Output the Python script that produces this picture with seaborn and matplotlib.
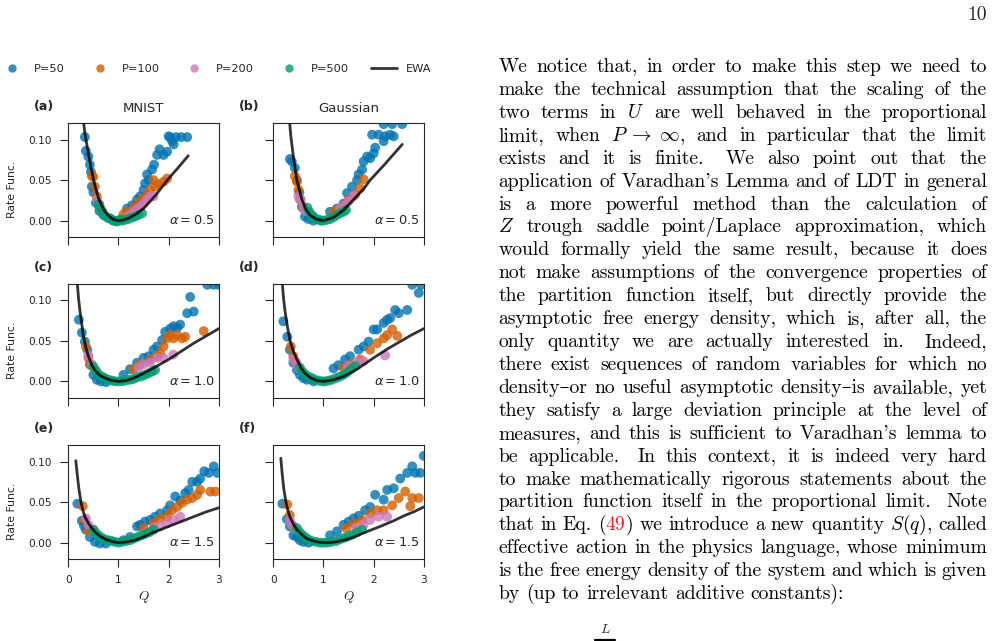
import matplotlib
matplotlib.use("Agg")
import numpy as np
import pandas as pd
import matplotlib.pyplot as plt
import seaborn as sns
from matplotlib.lines import Line2D

sns.set_style("ticks")
plt.rcParams["font.family"] = ["DejaVu Sans"]
plt.rcParams.update({
    "axes.linewidth": 0.8,
    "xtick.major.size": 5.8,
    "ytick.major.size": 5.8,
    "xtick.major.width": 0.8,
    "ytick.major.width": 0.8,
    "xtick.major.pad": 6.0,
    "ytick.major.pad": 6.0,
    "xtick.labelsize": 7.6,
    "ytick.labelsize": 7.6,
})

# ---- data ----
sizes = [50, 100, 200, 500]
palette = {50: "#0173B2", 100: "#D55E00", 200: "#CC78BC", 500: "#029E73"}

# (a) MNIST, alpha = 0.5
a_q50 = [0.33, 0.35, 0.40, 0.43, 0.45, 0.47, 0.50, 0.55, 0.62, 0.70, 0.83, 0.90, 0.97, 1.05, 1.17, 1.27,
         1.37, 1.43, 1.50, 1.53, 1.60, 1.57, 1.67, 1.71, 1.77, 1.82, 1.90, 1.97, 2.00, 2.03, 2.07, 2.10,
         2.15, 2.25, 2.37]
a_r50 = [0.103, 0.086, 0.079, 0.069, 0.060, 0.042, 0.035, 0.022, 0.012, 0.007, 0.003, 0.000, -0.001,
         0.002, 0.015, 0.019, 0.026, 0.030, 0.038, 0.046, 0.050, 0.057, 0.063, 0.069, 0.081, 0.088,
         0.081, 0.085, 0.104, 0.103, 0.098, 0.094, 0.103, 0.103, 0.103]
a_q100 = [0.47, 0.50, 0.53, 0.57, 0.62, 1.10, 1.17, 1.30, 1.43, 1.50, 1.57, 1.63, 1.70, 1.73, 1.80, 1.90, 1.97]
a_r100 = [0.055, 0.054, 0.042, 0.030, 0.020, 0.008, 0.011, 0.017, 0.024, 0.028, 0.032, 0.038, 0.050,
          0.042, 0.045, 0.048, 0.052]
a_q200 = [0.57, 0.60, 0.63, 0.67, 1.20, 1.30, 1.37, 1.43, 1.50, 1.57, 1.63, 1.70]
a_r200 = [0.026, 0.019, 0.016, 0.012, 0.006, 0.011, 0.014, 0.017, 0.021, 0.026, 0.030, 0.030]
a_q500 = [0.60, 0.63, 0.67, 0.70, 0.75, 0.80, 0.87, 0.93, 1.00, 1.07, 1.13, 1.20, 1.27, 1.33, 1.40, 1.47]
a_r500 = [0.020, 0.016, 0.012, 0.008, 0.005, 0.003, 0.001, 0.000, 0.000, 0.000, 0.001, 0.002, 0.004,
          0.005, 0.007, 0.009]
a_qewa = [0.28, 0.33, 0.38, 0.45, 0.52, 0.60, 0.70, 0.80, 0.90, 1.00, 1.10, 1.20, 1.35, 1.50, 1.75, 2.00, 2.20, 2.39]
a_rewa = [0.135, 0.108, 0.090, 0.066, 0.046, 0.028, 0.014, 0.006, 0.0015, 0.0, 0.0008, 0.003, 0.008,
          0.015, 0.032, 0.052, 0.066, 0.080]

# (b) Gaussian, alpha = 0.5
b_q50 = [0.33, 0.37, 0.43, 0.47, 0.52, 0.57, 0.63, 0.70, 0.80, 0.95, 1.13, 1.27, 1.40, 1.47, 1.57, 1.67,
         1.70, 1.77, 1.80, 1.87, 1.93, 2.00, 2.03, 1.97, 2.10, 2.20, 2.23, 2.33, 2.40, 2.20, 2.37, 2.57]
b_r50 = [0.076, 0.073, 0.065, 0.050, 0.035, 0.017, 0.005, 0.002, 0.000, 0.000, 0.011, 0.015, 0.021,
         0.034, 0.042, 0.050, 0.057, 0.063, 0.073, 0.079, 0.077, 0.083, 0.090, 0.106, 0.106, 0.098,
         0.104, 0.106, 0.104, 0.119, 0.119, 0.119]
b_q100 = [0.43, 0.47, 0.50, 0.53, 0.60, 1.20, 1.27, 1.40, 1.50, 1.63, 1.73, 1.80]
b_r100 = [0.055, 0.048, 0.038, 0.026, 0.015, 0.010, 0.013, 0.019, 0.026, 0.032, 0.040, 0.051]
b_q200 = [0.50, 0.55, 0.60, 0.65, 1.33, 1.43, 1.50, 1.60]
b_r200 = [0.030, 0.026, 0.017, 0.012, 0.015, 0.019, 0.024, 0.030]
b_q500 = [0.68, 0.72, 0.76, 0.80, 0.86, 0.92, 1.00, 1.07, 1.13, 1.20, 1.27, 1.33, 1.40, 1.45]
b_r500 = [0.016, 0.011, 0.007, 0.005, 0.002, 0.001, 0.000, 0.001, 0.002, 0.004, 0.007, 0.009, 0.011, 0.013]
b_qewa = [0.32, 0.35, 0.40, 0.47, 0.57, 0.65, 0.73, 0.85, 1.00, 1.20, 1.40, 1.60, 1.80, 1.93, 2.20, 2.40, 2.57]
b_rewa = [0.125, 0.104, 0.079, 0.050, 0.026, 0.014, 0.007, 0.002, 0.0, 0.004, 0.013, 0.026, 0.039,
          0.050, 0.068, 0.082, 0.094]

# (c) MNIST, alpha = 1.0
c_q50 = [0.21, 0.27, 0.33, 0.38, 0.43, 0.50, 0.57, 0.65, 0.75, 1.10, 1.23, 1.37, 1.50, 1.60, 1.70, 1.77,
         1.87, 1.93, 2.03, 2.10, 2.17, 2.23, 2.37, 2.43, 2.50, 2.77, 2.90, 3.00]
c_r50 = [0.076, 0.060, 0.049, 0.039, 0.021, 0.008, 0.002, 0.000, -0.001, 0.008, 0.015, 0.023, 0.029,
         0.031, 0.039, 0.043, 0.051, 0.061, 0.065, 0.068, 0.066, 0.070, 0.084, 0.104, 0.086, 0.119,
         0.119, 0.119]
c_q100 = [0.35, 0.40, 0.45, 1.30, 1.43, 1.63, 1.77, 1.83, 1.90, 1.97, 2.03, 2.10, 2.17, 2.27, 2.33, 2.70]
c_r100 = [0.043, 0.029, 0.020, 0.015, 0.021, 0.027, 0.031, 0.035, 0.043, 0.053, 0.057, 0.053, 0.057,
          0.053, 0.055, 0.062]
c_q200 = [0.40, 0.47, 0.53, 1.40, 1.50, 1.63, 1.77, 1.90, 2.09]
c_r200 = [0.032, 0.021, 0.015, 0.017, 0.021, 0.023, 0.029, 0.029, 0.033]
c_q500 = [0.50, 0.55, 0.60, 0.67, 0.73, 0.80, 0.87, 0.93, 1.00, 1.07, 1.15, 1.23, 1.30, 1.37, 1.45,
          1.53, 1.60, 1.67, 1.73]
c_r500 = [0.018, 0.013, 0.009, 0.006, 0.004, 0.002, 0.001, 0.000, 0.000, 0.000, 0.001, 0.002, 0.003,
          0.005, 0.006, 0.008, 0.010, 0.012, 0.014]
c_qewa = [0.17, 0.20, 0.23, 0.27, 0.30, 0.35, 0.40, 0.47, 0.53, 0.62, 0.70, 0.85, 1.00, 1.15, 1.30,
          1.47, 1.63, 1.80, 2.00, 2.25, 2.50, 2.75, 3.00]
c_rewa = [0.130, 0.105, 0.088, 0.070, 0.056, 0.042, 0.031, 0.020, 0.014, 0.008, 0.005, 0.0015, 0.0,
          0.001, 0.004, 0.009, 0.014, 0.020, 0.027, 0.037, 0.047, 0.056, 0.065]

# (d) Gaussian, alpha = 1.0
d_q50 = [0.20, 0.28, 0.33, 0.40, 0.47, 0.53, 0.60, 0.67, 0.80, 1.20, 1.30, 1.43, 1.53, 1.70, 1.80, 1.90,
         2.00, 2.07, 2.20, 2.27, 2.33, 2.43, 2.50, 2.67, 2.77, 2.90, 2.95]
d_r50 = [0.074, 0.055, 0.039, 0.023, 0.014, 0.008, 0.004, 0.002, 0.000, 0.016, 0.020, 0.027, 0.031,
         0.039, 0.043, 0.049, 0.064, 0.064, 0.072, 0.076, 0.078, 0.088, 0.084, 0.088, 0.119, 0.109, 0.119]
d_q100 = [0.35, 0.40, 0.45, 1.40, 1.53, 1.73, 1.93, 2.07, 2.20, 2.27, 2.37, 2.47]
d_r100 = [0.043, 0.031, 0.024, 0.017, 0.021, 0.027, 0.039, 0.047, 0.053, 0.057, 0.064, 0.056]
d_q200 = [0.40, 0.47, 0.53, 1.50, 1.67, 1.80, 2.23]
d_r200 = [0.027, 0.021, 0.015, 0.019, 0.023, 0.025, 0.032]
d_q500 = [0.53, 0.58, 0.63, 0.70, 0.77, 0.83, 0.90, 0.97, 1.03, 1.10, 1.17, 1.25, 1.33, 1.40, 1.47, 1.55, 1.63]
d_r500 = [0.017, 0.012, 0.009, 0.006, 0.004, 0.002, 0.001, 0.000, 0.000, 0.001, 0.002, 0.004, 0.006,
          0.008, 0.011, 0.015, 0.019]
d_qewa = [0.17, 0.20, 0.23, 0.28, 0.33, 0.40, 0.47, 0.55, 0.63, 0.75, 0.87, 1.00, 1.20, 1.40, 1.67,
          2.00, 2.25, 2.47, 2.75, 3.00]
d_rewa = [0.130, 0.105, 0.088, 0.068, 0.051, 0.037, 0.027, 0.017, 0.010, 0.004, 0.001, 0.0, 0.002,
          0.006, 0.015, 0.029, 0.039, 0.047, 0.057, 0.065]

# (e) MNIST, alpha = 1.5
e_q50 = [0.18, 0.27, 0.31, 0.35, 0.43, 0.53, 0.63, 0.75, 1.10, 1.23, 1.37, 1.43, 1.53, 1.63, 1.73, 1.83,
         1.97, 2.03, 2.13, 2.23, 2.33, 2.40, 2.47, 2.57, 2.63, 2.71, 2.80, 2.90, 2.97]
e_r50 = [0.048, 0.027, 0.021, 0.016, 0.007, 0.001, -0.001, -0.001, 0.003, 0.007, 0.020, 0.022, 0.026,
         0.028, 0.032, 0.036, 0.040, 0.046, 0.057, 0.052, 0.061, 0.065, 0.075, 0.075, 0.079, 0.088,
         0.086, 0.094, 0.086]
e_q100 = [0.29, 0.33, 0.40, 1.50, 1.70, 1.83, 1.97, 2.07, 2.17, 2.27, 2.37, 2.47, 2.57, 2.63, 2.83, 2.93]
e_r100 = [0.045, 0.028, 0.015, 0.018, 0.024, 0.030, 0.032, 0.040, 0.044, 0.049, 0.053, 0.055, 0.059,
          0.065, 0.063, 0.063]
e_q200 = [0.35, 0.40, 0.50, 1.70, 1.83, 1.97, 2.10, 2.23]
e_r200 = [0.030, 0.022, 0.016, 0.018, 0.020, 0.024, 0.028, 0.032]
e_q500 = [0.50, 0.55, 0.60, 0.67, 0.73, 0.80, 0.87, 0.93, 1.00, 1.07, 1.15, 1.23, 1.30, 1.38, 1.46,
          1.54, 1.62, 1.70]
e_r500 = [0.016, 0.012, 0.009, 0.006, 0.004, 0.003, 0.002, 0.001, 0.000, 0.001, 0.002, 0.003, 0.005,
          0.007, 0.009, 0.011, 0.013, 0.016]
e_qewa = [0.15, 0.18, 0.21, 0.25, 0.29, 0.33, 0.40, 0.47, 0.55, 0.63, 0.75, 0.87, 1.00, 1.15, 1.33,
          1.50, 1.67, 2.00, 2.25, 2.50, 2.75, 3.00]
e_rewa = [0.101, 0.083, 0.067, 0.051, 0.040, 0.032, 0.024, 0.018, 0.012, 0.008, 0.004, 0.0015, 0.0,
          0.0008, 0.003, 0.007, 0.012, 0.020, 0.026, 0.032, 0.038, 0.043]

# (f) Gaussian, alpha = 1.5
f_q50 = [0.18, 0.27, 0.33, 0.40, 0.47, 0.53, 0.60, 0.70, 1.13, 1.27, 1.40, 1.50, 1.60, 1.70, 1.83, 1.93,
         2.03, 2.20, 2.27, 2.40, 2.53, 2.67, 2.77, 2.83, 2.93, 3.00]
f_r50 = [0.048, 0.029, 0.020, 0.009, 0.007, 0.003, 0.001, 0.000, 0.009, 0.014, 0.022, 0.026, 0.030,
         0.033, 0.040, 0.044, 0.059, 0.053, 0.065, 0.067, 0.079, 0.086, 0.094, 0.086, 0.086, 0.107]
f_q100 = [0.28, 0.33, 0.40, 1.45, 1.60, 1.77, 1.93, 2.07, 2.20, 2.37, 2.50, 2.63, 2.73, 2.77, 2.90]
f_r100 = [0.047, 0.034, 0.020, 0.018, 0.024, 0.028, 0.036, 0.040, 0.040, 0.046, 0.055, 0.063, 0.045,
          0.055, 0.055]
f_q200 = [0.33, 0.37, 0.47, 1.65, 1.80, 1.93, 2.10, 2.27]
f_r200 = [0.028, 0.022, 0.016, 0.018, 0.022, 0.028, 0.032, 0.032]
f_q500 = [0.47, 0.52, 0.57, 0.63, 0.70, 0.77, 0.85, 0.93, 1.00, 1.08, 1.16, 1.25, 1.33, 1.42, 1.50,
          1.58, 1.67, 1.77]
f_r500 = [0.018, 0.013, 0.010, 0.007, 0.004, 0.002, 0.001, 0.000, 0.000, 0.000, 0.001, 0.002, 0.004,
          0.006, 0.008, 0.010, 0.013, 0.016]
f_qewa = [0.15, 0.18, 0.21, 0.25, 0.29, 0.33, 0.40, 0.47, 0.55, 0.67, 0.80, 0.93, 1.07, 1.25, 1.47,
          1.65, 1.80, 2.13, 2.40, 2.60, 2.80, 3.00]
f_rewa = [0.104, 0.083, 0.066, 0.051, 0.040, 0.032, 0.023, 0.016, 0.011, 0.005, 0.002, 0.0005, 0.0,
          0.001, 0.004, 0.008, 0.012, 0.020, 0.027, 0.033, 0.038, 0.044]

panel_labels = ["(a)", "(b)", "(c)", "(d)", "(e)", "(f)"]
col_titles = ["MNIST", "Gaussian"]
alphas = ["0.5", "1.0", "1.5"]

# right-hand column of the page
body = [
    "We notice that, in order to make this step we need to",
    "make the technical assumption that the scaling of the",
    "two terms in $U$ are well behaved in the proportional",
    r"limit, when $P\;\to\;\infty$, and in particular that the limit",
    "exists and it is finite.  We also point out that the",
    "application of Varadhan's Lemma and of LDT in general",
    "is a more powerful method than the calculation of",
    "$Z$ trough saddle point/Laplace approximation, which",
    "would formally yield the same result, because it does",
    "not make assumptions of the convergence properties of",
    "the partition function itself, but directly provide the",
    "asymptotic free energy density, which is, after all, the",
    "only quantity we are actually interested in.  Indeed,",
    "there exist sequences of random variables for which no",
    "density\u2013or no useful asymptotic density\u2013is available, yet",
    "they satisfy a large deviation principle at the level of",
    "measures, and this is sufficient to Varadhan's lemma to",
    "be applicable.  In this context, it is indeed very hard",
    "to make mathematically rigorous statements about the",
    "partition function itself in the proportional limit.  Note",
    "that in Eq. (@49@) we introduce a new quantity $S(q)$, called",
    "effective action in the physics language, whose minimum",
    "is the free energy density of the system and which is given",
    "by (up to irrelevant additive constants):",
]

# ---- figure ----
W, H = 995, 641
fig = plt.figure(figsize=(W / 100, H / 100), dpi=100)


def frac(x, y):
    return x / W, 1 - y / H


panels = [
    [(a_q50, a_r50), (a_q100, a_r100), (a_q200, a_r200), (a_q500, a_r500), (a_qewa, a_rewa)],
    [(b_q50, b_r50), (b_q100, b_r100), (b_q200, b_r200), (b_q500, b_r500), (b_qewa, b_rewa)],
    [(c_q50, c_r50), (c_q100, c_r100), (c_q200, c_r200), (c_q500, c_r500), (c_qewa, c_rewa)],
    [(d_q50, d_r50), (d_q100, d_r100), (d_q200, d_r200), (d_q500, d_r500), (d_qewa, d_rewa)],
    [(e_q50, e_r50), (e_q100, e_r100), (e_q200, e_r200), (e_q500, e_r500), (e_qewa, e_rewa)],
    [(f_q50, f_r50), (f_q100, f_r100), (f_q200, f_r200), (f_q500, f_r500), (f_qewa, f_rewa)],
]

col_left = [68.3, 273.3]
row_top = [123.3, 284.0, 445.3]
ax_w, ax_h = 150.5, 113.6

for i, series in enumerate(panels):
    row, col = divmod(i, 2)
    l, t = col_left[col], row_top[row]
    ax = fig.add_axes([l / W, 1 - (t + ax_h) / H, ax_w / W, ax_h / H])

    df = pd.concat([pd.DataFrame({"Q": q, "rate": r, "P": p})
                    for p, (q, r) in zip(sizes, series[:4])], ignore_index=True)
    sns.scatterplot(data=df, x="Q", y="rate", hue="P", palette=palette, s=50,
                    alpha=0.8, linewidth=0, legend=False, ax=ax, zorder=2)
    qe, re = series[4]
    sns.lineplot(x=qe, y=re, color="k", alpha=0.8, lw=2, sort=False,
                 estimator=None, ax=ax, zorder=3)

    ax.set_xlim(0, 3)
    ax.set_ylim(-0.02, 0.12)
    ax.set_xticks([0, 1, 2, 3])
    ax.set_yticks([0, 0.05, 0.10])
    ax.set_xlabel("")
    ax.set_ylabel("")
    if row < 2:
        ax.tick_params(labelbottom=False)
    else:
        ax.set_xlabel("$Q$", math_fontfamily="cm", fontsize=9.5, labelpad=3)
    if col == 1:
        ax.tick_params(labelleft=False)
    else:
        ax.set_ylabel("Rate Func.", fontsize=7.8)
        ax.yaxis.set_label_coords(-0.341, 0.414)
    if row == 0:
        ax.set_title(col_titles[col], fontsize=9.5, pad=8)
    ax.text(0.975, 0.145, r"$\alpha = %s$" % alphas[row], transform=ax.transAxes,
            ha="right", va="center", fontsize=9.3)
    fig.text(*frac(col_left[col] - 34.3, t - 16.5), panel_labels[i],
             fontsize=9, fontweight="bold", va="center", ha="left")

handles = [Line2D([], [], marker="o", ls="", color=palette[p], alpha=0.8, markersize=6,
                  markeredgewidth=0, label="P=%d" % p) for p in sizes]
handles.append(Line2D([], [], color="k", alpha=0.8, lw=2, label="EWA"))
fig.legend(handles=handles, loc="center left", bbox_to_anchor=frac(-1.4, 69),
           ncol=5, frameon=False, fontsize=8.2, handlelength=2.35, handletextpad=0.75,
           columnspacing=1.88, borderpad=0, borderaxespad=0)

# ---- justified text column ----
fam = ["cmr10", "DejaVu Serif"]
renderer = fig.canvas.get_renderer()


def segments(tok):
    parts = tok.split("@")
    return [(s, "#EE1C24" if k % 2 else "black") for k, s in enumerate(parts) if s]


def tok_width(tok, size):
    w = 0
    for s, c in segments(tok):
        t = fig.text(0, 0, s, fontsize=size, family=fam, math_fontfamily="cm")
        w += t.get_window_extent(renderer).width
        t.remove()
    return w


def split_line(line):
    toks, weights, extra = [], [], 1.0
    for s in line.split(" "):
        if s == "":
            extra = 1.7
            continue
        if toks:
            weights.append(extra)
        toks.append(s)
        extra = 1.0
    return toks, weights


x_left, x_right = 498.3, 987.0
last = body[-1].split(" ")
fs0 = 10.0
nat = sum(tok_width(s, fs0) for s in last) + (len(last) - 1) * fs0 * 100 / 72 * 0.333
fs = fs0 * 347.0 / nat
space = fs * 100 / 72 * 0.333

y0, dy = 72.0, 22.92
for n, line in enumerate(body):
    toks, weights = split_line(line)
    widths = [tok_width(s, fs) for s in toks]
    if n < len(body) - 1:
        unit = (x_right - x_left - sum(widths)) / sum(weights)
    else:
        unit = space
    x = x_left
    y = y0 + n * dy
    for k, tok in enumerate(toks):
        xs = x
        for s, c in segments(tok):
            t = fig.text(*frac(xs, y), s, fontsize=fs, family=fam, math_fontfamily="cm",
                         color=c, va="baseline", ha="left")
            xs += t.get_window_extent(renderer).width
        x += widths[k]
        if k < len(weights):
            x += weights[k] * unit

# page number and the top of the next equation (cut by the page edge)
fig.text(*frac(987.0, 20.0), "10", fontsize=fs, family=fam, va="baseline", ha="right")
fig.text(*frac(605.0, 633.0), "$L$", fontsize=fs * 0.7, math_fontfamily="cm",
         va="baseline", ha="center")
fig.add_artist(Line2D([595 / W, 615 / W], [1 - 640 / H, 1 - 640 / H],
                      transform=fig.transFigure, color="k", lw=1.6))

fig.savefig("out.png", dpi=100)
